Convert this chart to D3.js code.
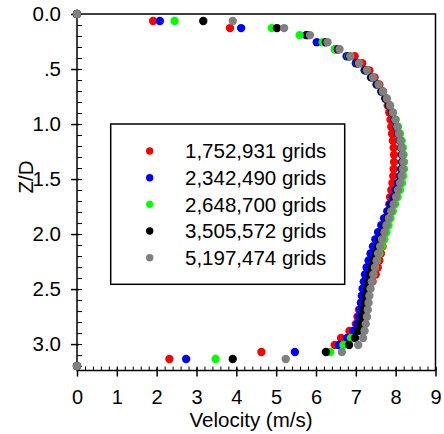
<!DOCTYPE html>
<html>
<head>
<meta charset="utf-8">
<script src="https://cdn.jsdelivr.net/npm/d3@7"></script>
<style>
	body { margin: 0; background: #fff; }
	text { font-family: "Liberation Sans", Arial, sans-serif; fill: #000; }
</style>
</head>
<body>
<svg id="chart" width="444" height="434"></svg>
<script>
// Z/D positions (same for every grid)
const z_values = [0, 0.064, 0.128, 0.192, 0.256, 0.32, 0.384, 0.448, 0.512, 0.576,
	0.64, 0.704, 0.768, 0.832, 0.896, 0.96, 1.024, 1.088, 1.152, 1.216,
	1.28, 1.344, 1.408, 1.472, 1.536, 1.6, 1.664, 1.728, 1.792, 1.856,
	1.92, 1.984, 2.048, 2.112, 2.176, 2.24, 2.304, 2.368, 2.432, 2.496,
	2.56, 2.624, 2.688, 2.752, 2.816, 2.88, 2.944, 3.008, 3.072, 3.136, 3.2];

const grid_names = ["1,752,931 grids", "2,342,490 grids", "2,648,700 grids", "3,505,572 grids", "5,197,474 grids"];
const grid_colors = ["#ff0000", "#0000ff", "#00ff00", "#000000", "#808080"];

const vel_1752931 = [0, 1.91, 3.84, 5.77, 6.22, 6.56, 6.97, 7.16, 7.34, 7.47,
	7.59, 7.68, 7.75, 7.80, 7.84, 7.87, 7.89, 7.91, 7.93, 7.95,
	7.96, 7.96, 7.95, 7.94, 7.92, 7.89, 7.86, 7.84, 7.82, 7.80,
	7.78, 7.75, 7.71, 7.67, 7.63, 7.59, 7.55, 7.50, 7.42, 7.33,
	7.22, 7.13, 7.08, 7.04, 7.00, 6.84, 6.63, 6.47, 4.63, 2.32, 0];

const vel_2342490 = [0, 2.08, 4.12, 5.75, 6.02, 6.48, 6.77, 7.00, 7.22, 7.38,
	7.52, 7.64, 7.74, 7.83, 7.91, 7.97, 8.02, 8.07, 8.11, 8.14,
	8.16, 8.16, 8.14, 8.11, 8.06, 8.00, 7.93, 7.86, 7.79, 7.71,
	7.64, 7.56, 7.49, 7.43, 7.37, 7.32, 7.27, 7.23, 7.20, 7.17,
	7.15, 7.13, 7.11, 7.08, 7.03, 6.94, 6.78, 6.57, 5.47, 2.74, 0];

const vel_2648700 = [0, 2.45, 4.89, 5.59, 6.17, 6.48, 6.82, 7.05, 7.25, 7.41,
	7.55, 7.66, 7.76, 7.85, 7.93, 8.00, 8.06, 8.11, 8.15, 8.18,
	8.20, 8.21, 8.21, 8.19, 8.16, 8.11, 8.05, 7.99, 7.93, 7.87,
	7.82, 7.77, 7.71, 7.65, 7.59, 7.53, 7.48, 7.43, 7.39, 7.35,
	7.31, 7.28, 7.25, 7.22, 7.18, 7.10, 6.88, 6.69, 6.36, 3.48, 0];

const vel_3505572 = [0, 3.17, 5.02, 5.80, 6.25, 6.55, 6.83, 7.05, 7.25, 7.40,
	7.54, 7.65, 7.75, 7.84, 7.91, 7.98, 8.03, 8.07, 8.11, 8.14,
	8.16, 8.17, 8.16, 8.13, 8.09, 8.04, 7.98, 7.92, 7.86, 7.80,
	7.74, 7.68, 7.62, 7.56, 7.50, 7.45, 7.40, 7.36, 7.32, 7.29,
	7.26, 7.23, 7.20, 7.17, 7.12, 7.06, 6.98, 6.83, 6.25, 3.91, 0];

const vel_5197474 = [0, 3.91, 5.20, 5.85, 6.29, 6.59, 6.86, 7.08, 7.28, 7.43,
	7.57, 7.68, 7.78, 7.86, 7.93, 7.99, 8.04, 8.08, 8.12, 8.15,
	8.18, 8.19, 8.18, 8.15, 8.11, 8.06, 8.01, 7.95, 7.89, 7.83,
	7.77, 7.72, 7.66, 7.61, 7.56, 7.52, 7.48, 7.44, 7.40, 7.37,
	7.34, 7.32, 7.30, 7.28, 7.25, 7.22, 7.18, 7.06, 6.65, 5.24, 0];

const series_values = [vel_1752931, vel_2342490, vel_2648700, vel_3505572, vel_5197474];

const x_ticks = [0, 1, 2, 3, 4, 5, 6, 7, 8, 9];
const y_ticks = [0, 0.5, 1.0, 1.5, 2.0, 2.5, 3.0];
const y_tick_labels = ["0.0", ".5", "1.0", "1.5", "2.0", "2.5", "3.0"];

const svg = d3.select("#chart");
const left = 77, right = 435.5, top_y = 14, bottom_y = 370.5;

let x = d3.scaleLinear().domain([0, 9]).range([left, right]);
let y = d3.scaleLinear().domain([0, 3.24]).range([top_y, bottom_y]);

let g_axis = svg.append("g");
let g_points = svg.append("g");
let g_legend = svg.append("g");

// minor ticks (inside)
g_axis.append("g")
	.attr("transform", `translate(0,${bottom_y})`)
	.call(d3.axisBottom(x).tickValues(d3.range(0, 9.01, 0.2)).tickSizeInner(-4).tickSizeOuter(0).tickFormat(""))
	.call(g => g.select(".domain").remove());

g_axis.append("g")
	.attr("transform", `translate(${left},0)`)
	.call(d3.axisLeft(y).tickValues(d3.range(0, 3.21, 0.1)).tickSizeInner(-5).tickSizeOuter(0).tickFormat(""))
	.call(g => g.select(".domain").remove());

// major ticks with labels
g_axis.append("g")
	.attr("transform", `translate(0,${bottom_y})`)
	.call(d3.axisBottom(x).tickValues(x_ticks).tickSizeInner(6).tickSizeOuter(0).tickPadding(13).tickFormat(d3.format("d")))
	.call(g => g.select(".domain").remove())
	.call(g => g.selectAll(".tick line").attr("y1", -3).attr("stroke-width", 1.5))
	.call(g => g.selectAll(".tick text").attr("font-size", 20));

g_axis.append("g")
	.attr("transform", `translate(${left},0)`)
	.call(d3.axisLeft(y).tickValues(y_ticks).tickSizeInner(6).tickSizeOuter(0).tickPadding(10)
		.tickFormat((d, i) => y_tick_labels[i]))
	.call(g => g.select(".domain").remove())
	.call(g => g.selectAll(".tick line").attr("x1", 2).attr("stroke-width", 1.5))
	.call(g => g.selectAll(".tick text").attr("font-size", 20.5));

g_axis.selectAll(".tick line").attr("stroke", "#000");
g_axis.selectAll("g").attr("font-family", null);

// frame
g_axis.append("rect")
	.attr("x", left)
	.attr("y", top_y)
	.attr("width", right - left)
	.attr("height", bottom_y - top_y)
	.attr("fill", "none")
	.attr("stroke", "#000")
	.attr("stroke-width", 1.5);

// axis titles
svg.append("text")
	.attr("x", 251)
	.attr("y", 427)
	.attr("text-anchor", "middle")
	.attr("font-size", 20.5)
	.text("Velocity (m/s)");

svg.append("text")
	.attr("transform", "translate(33,177) rotate(-90)")
	.attr("text-anchor", "middle")
	.attr("font-size", 20.5)
	.text("Z/D");

// points
series_values.forEach((vals, s) => {
	g_points.append("g")
		.selectAll("circle")
		.data(vals.map((v, i) => ({v: v, z: z_values[i]})))
		.join("circle")
		.attr("cx", d => x(d.v))
		.attr("cy", d => y(d.z))
		.attr("r", 4.2)
		.attr("fill", grid_colors[s]);
});

// legend
let legend_x = 110.7, legend_y = 124, legend_w = 234, legend_h = 160.3;
g_legend.append("rect")
	.attr("x", legend_x)
	.attr("y", legend_y)
	.attr("width", legend_w)
	.attr("height", legend_h)
	.attr("fill", "#fff")
	.attr("stroke", "#000")
	.attr("stroke-width", 1.5);

let legend_row = d3.scaleLinear().domain([0, 4]).range([151, 257.7]);
let rows = g_legend.selectAll(".legend_row")
	.data(grid_names)
	.join("g")
	.attr("class", "legend_row")
	.attr("transform", (d, i) => `translate(0,${legend_row(i)})`);

rows.append("circle")
	.attr("cx", 149.7)
	.attr("r", 3.7)
	.attr("fill", (d, i) => grid_colors[i]);

rows.append("text")
	.attr("x", 185)
	.attr("dy", "0.35em")
	.attr("font-size", 20.5)
	.text(d => d);
</script>
</body>
</html>
